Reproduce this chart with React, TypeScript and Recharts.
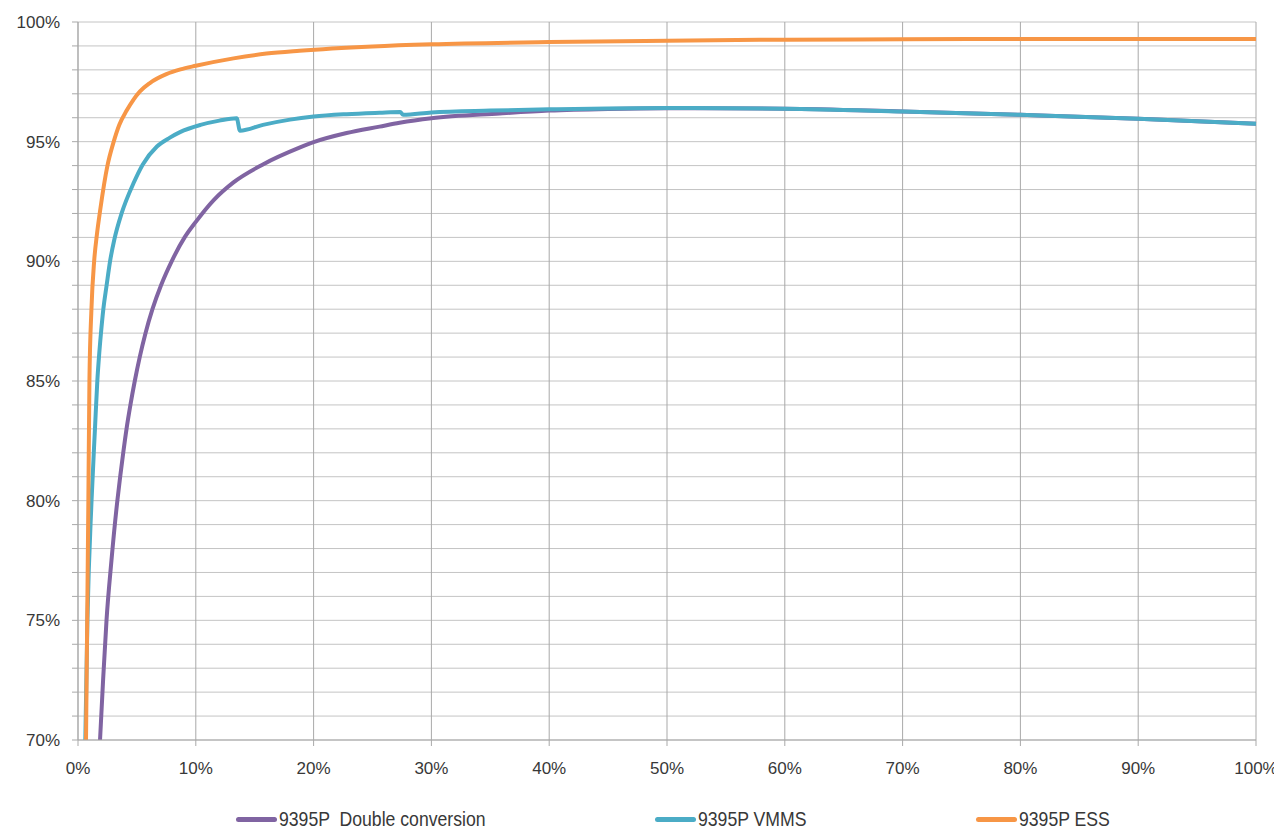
import React from "react";
import {
  LineChart,
  Line,
  XAxis,
  YAxis,
  CartesianGrid,
  Legend,
} from "recharts";

// load (%) -> efficiency (%) for each operating mode
const doubleConversionLoad = [1.87, 2.13, 2.42, 2.84, 3.34, 3.58, 3.84, 4.12, 4.45, 4.82, 5.24, 5.73, 6.32, 7.05, 7.95, 9.05, 10, 11.5, 13.2, 15.7, 18.8, 20, 22.8, 25.6, 27.3, 30, 35.8, 40, 45, 50, 60, 70, 80, 90, 100];
const doubleConversionEff = [70, 72.5, 75, 77.5, 80, 81, 82, 83, 84, 85, 86, 87, 88, 89, 90, 91, 91.65, 92.55, 93.3, 94.05, 94.75, 94.98, 95.36, 95.63, 95.79, 95.98, 96.18, 96.3, 96.37, 96.4, 96.38, 96.26, 96.12, 95.96, 95.75];

const vmmsLoad = [0.62, 0.8, 1.15, 1.44, 1.64, 1.78, 1.95, 2.15, 2.43, 2.72, 3.08, 3.7, 4.7, 5.5, 6.7, 7.8, 8.66, 10.4, 12, 13.47, 13.75, 15.7, 18, 20, 22.8, 25.6, 27.35, 27.6, 30, 35, 40, 50, 60, 70, 80, 90, 100];
const vmmsEff = [70, 75, 80, 83, 85, 86, 87, 88, 89, 90, 90.9, 92.0, 93.25, 94.05, 94.8, 95.17, 95.4, 95.7, 95.88, 95.98, 95.46, 95.7, 95.92, 96.05, 96.15, 96.21, 96.24, 96.12, 96.22, 96.3, 96.35, 96.41, 96.38, 96.26, 96.12, 95.96, 95.75];

const essLoad = [0.68, 0.78, 0.88, 0.97, 1.14, 1.37, 1.6, 1.9, 2.5, 3.0, 3.5, 4.13, 4.7, 5.26, 6.1, 7.5, 8.7, 10, 13.2, 16, 18.8, 25, 30, 40, 50, 60, 70, 80, 90, 100];
const essEff = [70, 75, 80, 85, 88, 90, 91.1, 92.2, 94.0, 94.95, 95.7, 96.3, 96.75, 97.1, 97.45, 97.82, 98.02, 98.17, 98.48, 98.68, 98.8, 98.98, 99.07, 99.16, 99.22, 99.26, 99.28, 99.29, 99.29, 99.29];

const xTicks = [0, 10, 20, 30, 40, 50, 60, 70, 80, 90, 100];
const yTicks = Array.from({ length: 31 }, (_, i) => 70 + i);

const toPoints = (xs: number[], ys: number[]) => xs.map((x, i) => ({ x, y: ys[i] }));

const series = [
  { name: "9395P  Double conversion", color: "#8064A2", data: toPoints(doubleConversionLoad, doubleConversionEff), left: 228 },
  { name: "9395P VMMS", color: "#4BACC6", data: toPoints(vmmsLoad, vmmsEff), left: 647 },
  { name: "9395P ESS", color: "#F79646", data: toPoints(essLoad, essEff), left: 968 },
];

const tickStyle = { fontFamily: "'Liberation Sans', Arial, sans-serif", fontSize: 17, fill: "#383838" };

function LegendRow() {
  return (
    <div style={{ position: "relative", height: 24, width: 1274 }}>
      {series.map((s) => (
        <div
          key={s.name}
          style={{
            position: "absolute",
            left: s.left,
            top: 0,
            height: 24,
            display: "flex",
            alignItems: "center",
            whiteSpace: "pre",
            fontFamily: "'Liberation Sans', Arial, sans-serif",
            fontSize: 21,
            color: "#383838",
          }}
        >
          <span style={{ display: "inline-block", width: 41, height: 5, borderRadius: 3, background: s.color, marginRight: 2 }} />
          <span style={{ display: "inline-block", transform: "scaleX(0.84)", transformOrigin: "left center" }}>{s.name}</span>
        </div>
      ))}
    </div>
  );
}

export default function App() {
  return (
    <LineChart width={1274} height={821} margin={{ top: 14, right: 26, bottom: 59, left: 10 }}>
      <CartesianGrid horizontal={true} vertical={false} stroke="#c4c4c4" />
      <CartesianGrid horizontal={false} vertical={true} stroke="#a9a9a9" />
      <XAxis
        type="number"
        dataKey="x"
        domain={[0, 100]}
        ticks={xTicks}
        interval={0}
        tickFormatter={(v) => `${v}%`}
        tick={tickStyle}
        tickSize={6}
        tickMargin={16}
        stroke="#a9a9a9"
        height={30}
      />
      <YAxis
        type="number"
        domain={[70, 100]}
        ticks={yTicks}
        interval={0}
        tickFormatter={(v) => (v % 5 === 0 ? `${v}%` : "")}
        tick={tickStyle}
        tickSize={6}
        tickMargin={12}
        stroke="#a9a9a9"
        width={60}
      />
      <Legend
        verticalAlign="middle"
        align="center"
        content={() => <LegendRow />}
        wrapperStyle={{ top: 799, left: 0, width: 1274 }}
      />
      {series.map((s) => (
        <Line
          key={s.name}
          name={s.name}
          data={s.data}
          dataKey="y"
          type="monotone"
          stroke={s.color}
          strokeWidth={4}
          dot={false}
          activeDot={false}
          isAnimationActive={false}
        />
      ))}
    </LineChart>
  );
}
